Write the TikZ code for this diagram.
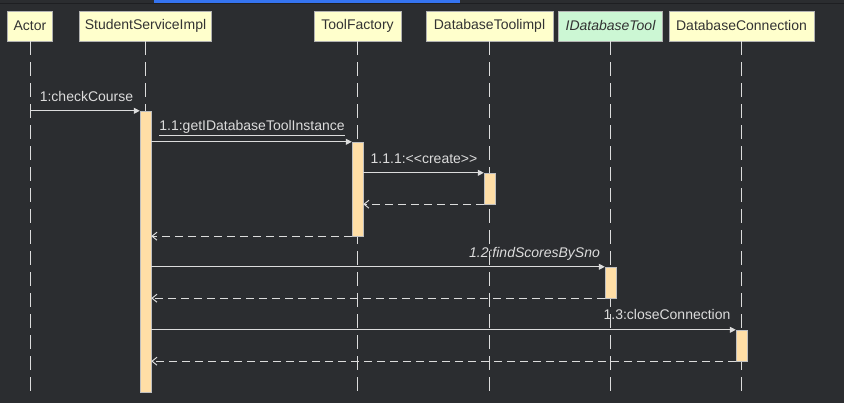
\documentclass[tikz,border=0pt]{standalone}
\usepackage{fontspec}
\setmainfont{Liberation Sans}
\usetikzlibrary{positioning,arrows.meta}

\definecolor{bg}{HTML}{2B2D30}
\definecolor{bgdark}{HTML}{1E1F22}
\definecolor{tabblue}{HTML}{3574F0}
\definecolor{headfill}{HTML}{FFFFCC}
\definecolor{ifacefill}{HTML}{CCF7D4}
\definecolor{actfill}{HTML}{FFDEA6}
\definecolor{linegray}{HTML}{DCDCDC}
\definecolor{headtext}{HTML}{333333}

\begin{document}
\begin{tikzpicture}[x=1pt,y=-1pt,font=\fontsize{14}{16}\selectfont]
	\tikzset{head/.style={draw=gray!60,fill=headfill,text=headtext,minimum height=30pt,inner sep=0pt},
		act/.style={draw=gray!50,fill=actfill,minimum width=11pt,inner sep=0pt},
		lifeline/.style={linegray,line width=1pt,dash pattern=on 14pt off 7pt},
		call/.style={linegray,line width=1pt,-{Triangle[length=6pt,width=6pt]}},
		reply/.style={linegray,line width=1pt,dash pattern=on 8pt off 5pt,-{Straight Barb[length=5pt,width=8pt]}},
		msglbl/.style={text=linegray,inner sep=0pt,anchor=base}}

	%% Background and window tab
	\fill[bg] (0,0) rectangle (844,403);
	\fill[bgdark] (0,3) rectangle (844,4.5);
	\fill[tabblue] (154,0) rectangle (460,3);

	%% Heads
	\node[head,minimum width=45pt] (actor) at (30,26) {Actor};
	\node[head,minimum width=132pt] (ssi) at (145.5,26) {StudentServiceImpl};
	\node[head,minimum width=87pt] (tf) at (357.5,26) {ToolFactory};
	\node[head,minimum width=127pt] (dti) at (489.5,26) {DatabaseToolimpl};
	\node[head,minimum width=104pt,fill=ifacefill,font=\fontsize{14}{16}\selectfont\itshape] (idt) at (610.5,26) {IDatabaseTool};
	\node[head,minimum width=145pt] (dc) at (741.5,26) {DatabaseConnection};
	\coordinate (bottom) at (0,393);

	%% Lifelines
	\foreach \h in {actor,ssi,tf,dti,idt,dc}
		\draw[lifeline] (\h.south) -- (\h.south |- bottom);

	%% Activations
	\node[act,minimum height=281pt] (a1) at (145.5,251.5) {};
	\node[act,minimum height=94pt] (a2) at (357.5,189) {};
	\node[act,minimum height=31pt] (a3) at (489.5,188.5) {};
	\node[act,minimum height=31pt] (a4) at (610.5,282.5) {};
	\node[act,minimum height=31pt] (a5) at (741.5,345.5) {};

	%% Messages
	\draw[call] (actor.south |- a1.north) -- (a1.north west);
	\draw[call] (a1.east |- a2.north) -- (a2.north west);
	\draw[call] (a2.east |- a3.north) -- (a3.north west);
	\draw[reply] (a3.south west) -- (a2.east |- a3.south);
	\draw[reply] (a2.south west) -- (a1.east |- a2.south);
	\draw[call] (a1.east |- a4.north) -- (a4.north west);
	\draw[reply] (a4.south west) -- (a1.east |- a4.south);
	\draw[call] (a1.east |- a5.north) -- (a5.north west);
	\draw[reply] (a5.south west) -- (a1.east |- a5.south);

	%% Message labels
	\node[msglbl] (l1) at (86.5,102) {1:checkCourse};
	\node[msglbl] (l2) at (252,131) {\underline{1.1:getIDatabaseToolInstance}};
	\node[msglbl] (l3) at (424,164) {1.1.1:<{}<create>{}>};
	\node[msglbl,font=\fontsize{14}{16}\selectfont\itshape] (l4) at (534.5,258) {1.2:findScoresBySno};
	\node[msglbl] (l5) at (667,320) {1.3:closeConnection};
\end{tikzpicture}
\end{document}
